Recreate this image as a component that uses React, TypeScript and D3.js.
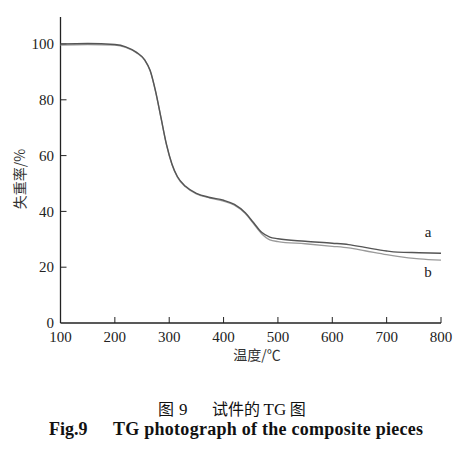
import React from "react";
import * as d3 from "d3";

const temps = [100, 150, 200, 220, 240, 255, 265, 275, 285, 295, 305, 315, 330, 350, 375, 400, 420, 440, 455, 470, 485, 500, 550, 600, 630, 660, 700, 720, 760, 800];
const seriesA = [100, 100.2, 99.8, 99, 97, 94.3, 90.5, 83, 73.5, 64, 57, 52.5, 49, 46.5, 45, 44, 42.5, 39.5, 36, 32.5, 30.8, 30.2, 29.3, 28.6, 28.1, 27.1, 25.8, 25.4, 25.2, 25];
const seriesB = [99.6, 99.8, 99.6, 98.8, 96.8, 94.1, 90.3, 82.8, 73.3, 63.8, 56.8, 52.3, 48.8, 46.3, 44.8, 43.7, 42.2, 39.2, 35.6, 32, 29.8, 29.2, 28.4, 27.5, 26.9, 25.9, 24.5, 23.9, 23, 22.5];
const xTicks = [100, 200, 300, 400, 500, 600, 700, 800];
const yTicks = [0, 20, 40, 60, 80, 100];

export default function App() {
  const x = d3.scaleLinear().domain([100, 800]).range([60.5, 441]);
  const y = d3.scaleLinear().domain([0, 100]).range([323, 44]);
  const line = (vals: number[]) =>
    d3
      .line<number>()
      .x((_, i) => x(temps[i]))
      .y((v) => y(v))
      .curve(d3.curveMonotoneX)(vals) || "";
  const serif = "'Liberation Serif', 'Times New Roman', serif";
  const cjk = "'Noto Sans CJK SC', sans-serif";
  return (
    <svg width={473} height={459} style={{ position: "absolute", left: 0, top: 0, background: "#fff" }}>
      <rect width={473} height={459} fill="#fff" />
      {/* axes */}
      <line x1={x(100)} y1={17} x2={x(100)} y2={y(0)} stroke="#222" strokeWidth={1.3} />
      <line x1={x(100)} y1={y(0)} x2={x(800)} y2={y(0)} stroke="#222" strokeWidth={1.3} />
      {yTicks.map((t) => (
        <g key={"y" + t}>
          {t > 0 && <line x1={x(100)} x2={x(100) + 6} y1={y(t)} y2={y(t)} stroke="#222" strokeWidth={1} />}
          <text x={54} y={y(t)} dy="0.35em" textAnchor="end" fontFamily={serif} fontSize={15} fill="#222">
            {t}
          </text>
        </g>
      ))}
      {xTicks.map((t) => (
        <g key={"x" + t}>
          {t > 100 && <line x1={x(t)} x2={x(t)} y1={y(0)} y2={y(0) - 6} stroke="#222" strokeWidth={1} />}
          <text x={x(t)} y={342} textAnchor="middle" fontFamily={serif} fontSize={15} fill="#222">
            {t}
          </text>
        </g>
      ))}
      {/* curves */}
      <path d={line(seriesB)} fill="none" stroke="#9a9a9a" strokeWidth={1.3} />
      <path d={line(seriesA)} fill="none" stroke="#555" strokeWidth={1.4} />
      <text x={428} y={232} dy="0.35em" textAnchor="middle" fontFamily={serif} fontSize={15} fill="#222">a</text>
      <text x={428} y={272} dy="0.35em" textAnchor="middle" fontFamily={serif} fontSize={15} fill="#222">b</text>
      {/* axis titles */}
      <text
        transform="translate(20,179) rotate(-90)"
        textAnchor="middle"
        dy="0.35em"
        fontFamily={cjk}
        fontSize={14}
        fill="#333"
      >
        失重率/%
      </text>
      <text x={257} y={355} dy="0.35em" textAnchor="middle" fontFamily={cjk} fontSize={14} fill="#333">
        温度/℃
      </text>
      {/* caption */}
      <text x={158} y={409} dy="0.35em" fontFamily={cjk} fontSize={16} fill="#111">图</text>
      <text x={179} y={409} dy="0.35em" fontFamily={serif} fontSize={17} fill="#111">9</text>
      <text x={212} y={409} dy="0.35em" fontFamily={cjk} fontSize={16} fill="#111" xmlSpace="preserve">
        试件的 <tspan fontFamily={serif} fontSize={17}>TG</tspan> 图
      </text>
      <text x={49} y={429} dy="0.35em" fontFamily={serif} fontWeight="bold" fontSize={18} fill="#111">
        Fig.9
      </text>
      <text x={113} y={429} dy="0.35em" fontFamily={serif} fontWeight="bold" fontSize={18} fill="#111" textLength={310} lengthAdjust="spacing">
        TG photograph of the composite pieces
      </text>
    </svg>
  );
}
